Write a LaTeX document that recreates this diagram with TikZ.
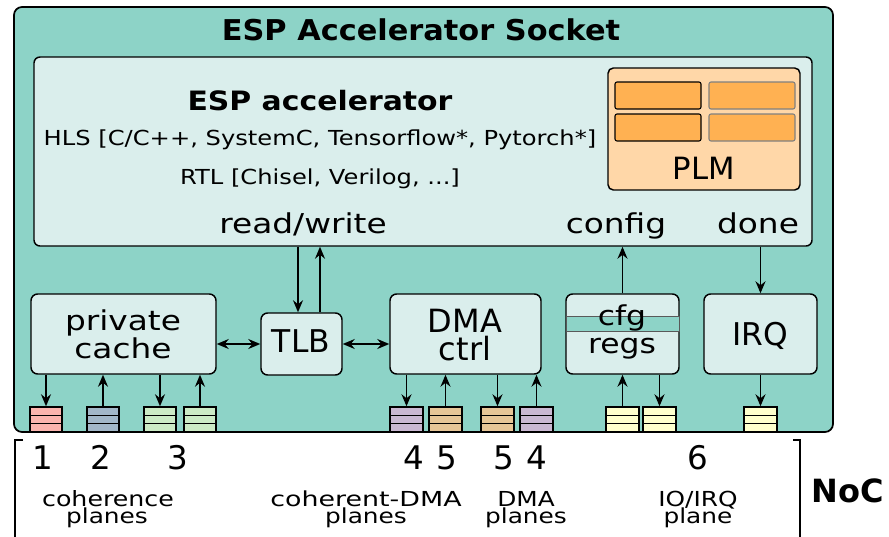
\documentclass[tikz,border=0pt]{standalone}
\usepackage{fontspec}
\setmainfont{DejaVu Sans}
\newfontfamily\wideA[FakeStretch=1.2]{DejaVu Sans}
\newfontfamily\wideB[FakeStretch=1.17]{DejaVu Sans}
\newfontfamily\wideC[FakeStretch=1.15]{DejaVu Sans}
\newfontfamily\wideD[FakeStretch=1.3]{DejaVu Sans}
\newfontfamily\boldT[FakeStretch=1.06]{DejaVu Sans}
\newfontfamily\boldA[FakeStretch=1.12]{DejaVu Sans}
\usetikzlibrary{arrows.meta,fit,calc}

\definecolor{socket}{HTML}{8DD3C7}
\definecolor{lightbox}{HTML}{DAEEEC}
\definecolor{plmbg}{HTML}{FFD7A8}
\definecolor{plmcell}{HTML}{FFB152}
\definecolor{qpink}{HTML}{FBB4AE}
\definecolor{qblue}{HTML}{A2B7C8}
\definecolor{qgreen}{HTML}{CCEBC5}
\definecolor{qpurple}{HTML}{CAB8D2}
\definecolor{qtan}{HTML}{E6C597}
\definecolor{qyellow}{HTML}{FFFFCC}

\tikzset{
  x=0.75pt, y=-0.75pt,
  tipk/.tip={Stealth[length=9pt,width=7.5pt,inset=3pt]},
  arr/.style={line width=1.1pt, -tipk},
  darr/.style={line width=1.1pt, tipk-tipk},
  box/.style={draw, line width=1.1pt, fill=lightbox, rounded corners=5pt, inner sep=0pt},
  txt/.style={inner sep=0pt, anchor=base},
  queue/.style={draw, line width=1.1pt, inner sep=0pt,
    path picture={
      \draw[line width=1.1pt]
        ($(path picture bounding box.north west)!1/3!(path picture bounding box.south west)$) --
        ($(path picture bounding box.north east)!1/3!(path picture bounding box.south east)$)
        ($(path picture bounding box.north west)!2/3!(path picture bounding box.south west)$) --
        ($(path picture bounding box.north east)!2/3!(path picture bounding box.south east)$);
    }},
  cell/.style={draw, line width=0.8pt, fill=plmcell, rounded corners=1.5pt, inner sep=0pt},
}

\begin{document}
\begin{tikzpicture}
\useasboundingbox (0,0) rectangle (889,536);

% socket frame
\node[draw, line width=1.3pt, fill=socket, rounded corners=6pt, inner sep=0pt,
      fit={(14,7) (833,432)}] (socket) {};
\node[txt] (title) at (421,40) {\boldT\fontsize{21.5}{26}\selectfont\bfseries ESP Accelerator Socket};

% accelerator
\node[box, rounded corners=4.5pt, fit={(34,57) (812,246)}] (acc) {};
\node[txt] (accname) at (320,110) {\boldA\fontsize{20}{24}\selectfont\bfseries ESP accelerator};
\node[txt] (hls) at (320,145) {\wideB\fontsize{15.5}{19}\selectfont HLS [C/C++, SystemC, Tensorflow*, Pytorch*]};
\node[txt] (rtl) at (320,184) {\wideB\fontsize{15.5}{19}\selectfont RTL [Chisel, Verilog, ...]};
\node[txt] (rw) at (303,233) {\wideA\fontsize{20.5}{24}\selectfont read/write};
\node[txt] (cfgtxt) at (616,233) {\wideA\fontsize{20.5}{24}\selectfont config};
\node[txt] (donetxt) at (758,233) {\wideA\fontsize{20.5}{24}\selectfont done};

% private local memory
\node[draw, line width=1.1pt, fill=plmbg, rounded corners=4pt, inner sep=0pt,
      fit={(608,68) (800,190)}] (plm) {};
\node[cell, fit={(615,82) (701,109)}] (c1) {};
\node[cell, draw=black!50, fit={(709,82) (795,109)}] (c2) {};
\node[cell, fit={(615,114) (701,141)}] (c3) {};
\node[cell, draw=black!50, fit={(709,114) (795,141)}] (c4) {};
\node[txt] (plmtxt) at (704,179) {\fontsize{23}{27}\selectfont PLM};

% socket components
\node[box, fit={(31,294) (216,374)}] (pc) {};
\node[txt] (pc1) at (123,330) {\wideA\fontsize{20.5}{24}\selectfont private};
\node[txt] (pc2) at (123,358) {\wideA\fontsize{20.5}{24}\selectfont cache};

\node[box, fit={(261,313) (342,375)}] (tlb) {};
\node[txt] (tlbtxt) at (301,352) {\fontsize{23.5}{27}\selectfont TLB};

\node[box, fit={(390,294) (541,374)}] (dma) {};
\node[txt] (dma1) at (465,332) {\fontsize{24}{28}\selectfont DMA};
\node[txt] (dma2) at (465,360) {\fontsize{24}{28}\selectfont ctrl};

\node[box, fit={(566,294) (679,374)}] (cfg) {};
\node[draw=black!65, line width=0.7pt, fill=socket, inner sep=0pt,
      fit={(566,316) (679,331)}] (band) {};
\node[txt] (cfg1) at (622,325) {\wideC\fontsize{20.5}{24}\selectfont cfg};
\node[txt] (cfg2) at (622,353) {\wideC\fontsize{20.5}{24}\selectfont regs};

\node[box, fit={(704,294) (817,374)}] (irq) {};
\node[txt] (irqtxt) at (760.5,345) {\fontsize{23.5}{27}\selectfont IRQ};

% NoC queues
\node[queue, fill=qpink,   fit={(30,407) (62,432)}]   (q1) {};
\node[queue, fill=qblue,   fit={(87,407) (119,432)}]  (q2) {};
\node[queue, fill=qgreen,  fit={(144,407) (176,432)}] (q3a) {};
\node[queue, fill=qgreen,  fit={(184,407) (216,432)}] (q3b) {};
\node[queue, fill=qpurple, fit={(390,407) (423,432)}] (q4a) {};
\node[queue, fill=qtan,    fit={(429,407) (462,432)}] (q5a) {};
\node[queue, fill=qtan,    fit={(481,407) (514,432)}] (q5b) {};
\node[queue, fill=qpurple, fit={(520,407) (553,432)}] (q4b) {};
\node[queue, fill=qyellow, fit={(606,407) (639,432)}] (q6a) {};
\node[queue, fill=qyellow, fit={(643,407) (676,432)}] (q6b) {};
\node[queue, fill=qyellow, fit={(744,407) (777,432)}] (q6c) {};

% connector columns
\coordinate (xrd) at (298,0);
\coordinate (xwr) at (320,0);

\draw[arr] (acc.south -| xrd) -- (tlb.north -| xrd);
\draw[arr] (tlb.north -| xwr) -- (acc.south -| xwr);
\draw[arr] (cfg.north -| q6a.north) -- (acc.south -| q6a.north);
\draw[arr] (acc.south -| q6c.north) -- (irq.north -| q6c.north);
\draw[darr] (pc.east |- tlb.west) -- (tlb.west);
\draw[darr] (tlb.east) -- (dma.west |- tlb.east);

\draw[arr] (pc.south -| q1.north) -- (q1.north);
\draw[arr] (q2.north) -- (pc.south -| q2.north);
\draw[arr] (pc.south -| q3a.north) -- (q3a.north);
\draw[arr] (q3b.north) -- (pc.south -| q3b.north);
\draw[arr] (dma.south -| q4a.north) -- (q4a.north);
\draw[arr] (q5a.north) -- (dma.south -| q5a.north);
\draw[arr] (dma.south -| q5b.north) -- (q5b.north);
\draw[arr] (q4b.north) -- (dma.south -| q4b.north);
\draw[arr] (q6a.north) -- (cfg.south -| q6a.north);
\draw[arr] (cfg.south -| q6b.north) -- (q6b.north);
\draw[arr] (irq.south -| q6c.north) -- (q6c.north);

% NoC bracket and plane labels
\draw[line width=1.1pt] (23,440) -- (15,440) -- (15,540);
\draw[line width=1.1pt] (793,440) -- (800,440) -- (800,540);

\node[txt] (n1) at (43,469) {\fontsize{24.4}{28}\selectfont 1};
\node[txt] (n2) at (101,469) {\fontsize{24.4}{28}\selectfont 2};
\node[txt] (n3) at (177.5,469) {\fontsize{24.4}{28}\selectfont 3};
\node[txt] (n4a) at (414,469) {\fontsize{24.4}{28}\selectfont 4};
\node[txt] (n5a) at (447,469) {\fontsize{24.4}{28}\selectfont 5};
\node[txt] (n5b) at (504,469) {\fontsize{24.4}{28}\selectfont 5};
\node[txt] (n4b) at (537,469) {\fontsize{24.4}{28}\selectfont 4};
\node[txt] (n6) at (697.5,469) {\fontsize{24.4}{28}\selectfont 6};

\node[txt] (l1a) at (108,506) {\wideA\fontsize{15.8}{19}\selectfont coherence};
\node[txt] (l1b) at (107,523) {\wideA\fontsize{15.5}{19}\selectfont planes};
\node[txt] (l2a) at (366,506) {\wideD\fontsize{15.5}{19}\selectfont coherent-DMA};
\node[txt] (l2b) at (366,523) {\wideA\fontsize{15.5}{19}\selectfont planes};
\node[txt] (l3a) at (526,506) {\wideA\fontsize{15.5}{19}\selectfont DMA};
\node[txt] (l3b) at (526,523) {\wideA\fontsize{15.5}{19}\selectfont planes};
\node[txt] (l4a) at (698,506) {\wideA\fontsize{15.5}{19}\selectfont IO/IRQ};
\node[txt] (l4b) at (698,523) {\wideA\fontsize{15.5}{19}\selectfont plane};

\node[txt] (noc) at (848,502) {\fontsize{24}{28}\selectfont\bfseries NoC};
\end{tikzpicture}
\end{document}
